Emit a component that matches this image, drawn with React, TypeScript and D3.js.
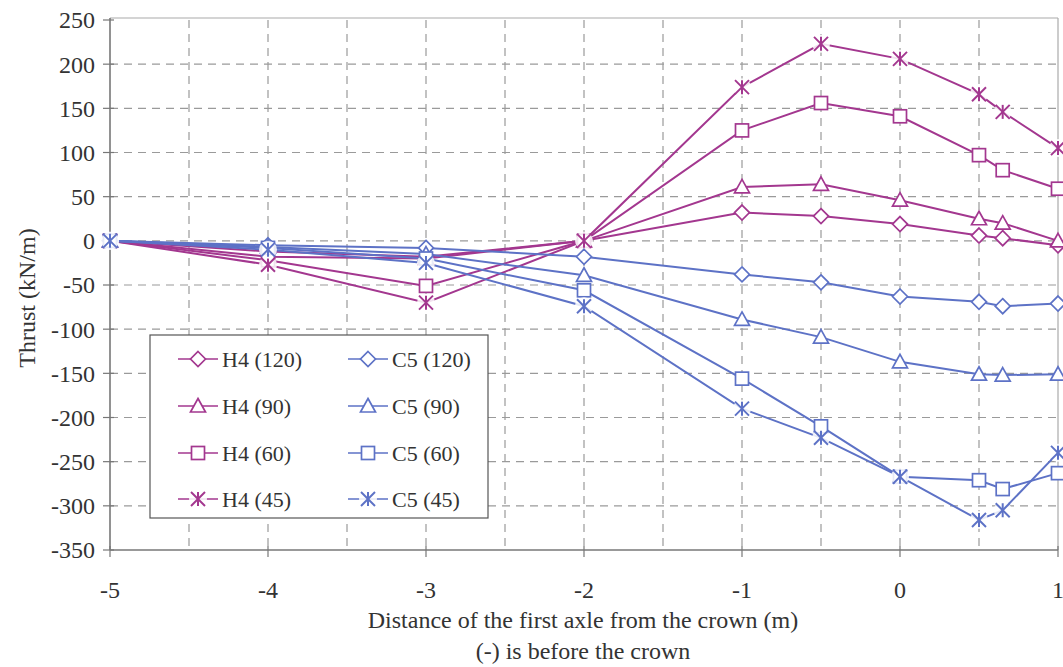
import React from "react";
import * as d3 from "d3";

const xs = [-5, -4, -3, -2, -1, -0.5, 0, 0.5, 0.65, 1];
const h4_120 = [0, -12, -18, 0, 32, 28, 19, 6, 3, -5];
const h4_90 = [0, -18, -20, 0, 61, 64, 46, 25, 20, 0];
const h4_60 = [0, -22, -51, 0, 125, 156, 141, 97, 80, 59];
const h4_45 = [0, -27, -70, 0, 174, 223, 206, 166, 146, 105];
const c5_120 = [0, -5, -8, -18, -38, -47, -63, -69, -74, -71];
const c5_90 = [0, -7, -15, -39, -89, -109, -137, -151, -152, -151];
const c5_60 = [0, -8, -20, -56, -156, -210, -267, -271, -281, -263];
const c5_45 = [0, -10, -25, -74, -190, -223, -267, -316, -305, -240];

const xTicks = [-5, -4, -3, -2, -1, 0, 1];
const xGrid = [-4.5, -4, -3.5, -3, -2.5, -2, -1.5, -1, -0.5, 0, 0.5];
const yTicks = [250, 200, 150, 100, 50, 0, -50, -100, -150, -200, -250, -300, -350];

const MAG = "#a3378f";
const BLU = "#5d72c6";

type Series = { name: string; values: number[]; color: string; marker: string };
const series: Series[] = [
  { name: "H4 (120)", values: h4_120, color: MAG, marker: "diamond" },
  { name: "H4 (90)", values: h4_90, color: MAG, marker: "triangle" },
  { name: "H4 (60)", values: h4_60, color: MAG, marker: "square" },
  { name: "H4 (45)", values: h4_45, color: MAG, marker: "star" },
  { name: "C5 (120)", values: c5_120, color: BLU, marker: "diamond" },
  { name: "C5 (90)", values: c5_90, color: BLU, marker: "triangle" },
  { name: "C5 (60)", values: c5_60, color: BLU, marker: "square" },
  { name: "C5 (45)", values: c5_45, color: BLU, marker: "star" },
];

function Marker({ type, x, y, color }: { type: string; x: number; y: number; color: string }) {
  const sw = 1.7;
  if (type === "diamond") {
    const r = 7.5;
    return <path d={`M${x},${y - r}L${x + r},${y}L${x},${y + r}L${x - r},${y}Z`} fill="white" stroke={color} strokeWidth={sw} />;
  }
  if (type === "triangle") {
    const r = 7.5;
    return <path d={`M${x},${y - r}L${x + r},${y + r * 0.8}L${x - r},${y + r * 0.8}Z`} fill="white" stroke={color} strokeWidth={sw} />;
  }
  if (type === "square") {
    const r = 6.5;
    return <rect x={x - r} y={y - r} width={2 * r} height={2 * r} fill="white" stroke={color} strokeWidth={sw} />;
  }
  const r = 7;
  return (
    <g stroke={color} strokeWidth={2}>
      <circle cx={x} cy={y} r={r + 2} fill="white" stroke="none" opacity={0.85} />
      <line x1={x - r} y1={y - r} x2={x + r} y2={y + r} />
      <line x1={x - r} y1={y + r} x2={x + r} y2={y - r} />
      <line x1={x} y1={y - r} x2={x} y2={y + r} />
    </g>
  );
}

export default function App() {
  const W = 1063, H = 667;
  const L = 110, R = 1058, T = 20, B = 550;
  const x = d3.scaleLinear().domain([-5, 1]).range([L, R]);
  const y = d3.scaleLinear().domain([-350, 250]).range([B, T]);
  const line = d3.line<number>().x((_, i) => x(xs[i])).y((v) => y(v));
  const font = "'Liberation Serif', 'Times New Roman', serif";
  const txt = "#333";

  const legX = [178, 348];
  const legY = [359, 406, 453, 499];

  return (
    <svg width={W} height={H} style={{ position: "absolute", left: 0, top: 0, background: "white" }} fontFamily={font}>
      {/* grid */}
      {xGrid.map((g) => (
        <line key={"gx" + g} x1={x(g)} x2={x(g)} y1={T} y2={B} stroke="#9a9a9a" strokeWidth={1.2} strokeDasharray="8,6" />
      ))}
      {yTicks.filter((t) => t > -350 && t < 250).map((t) => (
        <line key={"gy" + t} x1={L} x2={R} y1={y(t)} y2={y(t)} stroke="#9a9a9a" strokeWidth={1.2} strokeDasharray="8,6" />
      ))}
      {/* frame */}
      <line x1={L} x2={R} y1={T - 2} y2={T - 2} stroke="#aaa" strokeWidth={1.2} />
      <line x1={R} x2={R} y1={T - 2} y2={B} stroke="#aaa" strokeWidth={1.2} />
      <line x1={L} x2={L} y1={T - 2} y2={B} stroke="#777" strokeWidth={1.6} />
      <line x1={L} x2={R} y1={B} y2={B} stroke="#777" strokeWidth={1.6} />
      {/* ticks */}
      {yTicks.map((t) => (
        <g key={"yt" + t}>
          <line x1={L - 7} x2={L + 4} y1={y(t)} y2={y(t)} stroke="#777" strokeWidth={1.2} />
          <text x={L - 15} y={y(t)} dy="0.35em" textAnchor="end" fontSize={24} fill={txt}>{t}</text>
        </g>
      ))}
      {xTicks.map((t) => (
        <g key={"xt" + t}>
          <line x1={x(t)} x2={x(t)} y1={B - 4} y2={B + 7} stroke="#777" strokeWidth={1.2} />
          <text x={x(t)} y={B + 48} textAnchor="middle" fontSize={24} fill={txt}>{t}</text>
        </g>
      ))}
      {/* titles */}
      <text transform={`translate(35,${(T + B) / 2 + 13}) rotate(-90)`} textAnchor="middle" fontSize={24} fill={txt}>Thrust (kN/m)</text>
      <text x={583} y={628} textAnchor="middle" fontSize={24} fill={txt}>Distance of the first axle from the crown (m)</text>
      <text x={583} y={659} textAnchor="middle" fontSize={24} fill={txt}>(-) is before the crown</text>
      {/* lines */}
      {series.map((s) => (
        <path key={"l" + s.name} d={line(s.values) || ""} fill="none" stroke={s.color} strokeWidth={2} />
      ))}
      {series.map((s) => (
        <g key={"m" + s.name}>
          {s.values.map((v, i) => (
            <Marker key={i} type={s.marker} x={x(xs[i])} y={y(v)} color={s.color} />
          ))}
        </g>
      ))}
      {/* legend */}
      <rect x={150} y={335} width={338} height={183} fill="white" stroke="#555" strokeWidth={1.2} />
      {series.map((s, k) => {
        const col = k < 4 ? 0 : 1;
        const row = k % 4;
        const lx = legX[col], ly = legY[row];
        return (
          <g key={"lg" + s.name}>
            <line x1={lx} x2={lx + 40} y1={ly} y2={ly} stroke={s.color} strokeWidth={1.6} />
            <Marker type={s.marker} x={lx + 20} y={ly} color={s.color} />
            <text x={lx + 44} y={ly} dy="0.35em" fontSize={22} fill={txt}>{s.name}</text>
          </g>
        );
      })}
    </svg>
  );
}
